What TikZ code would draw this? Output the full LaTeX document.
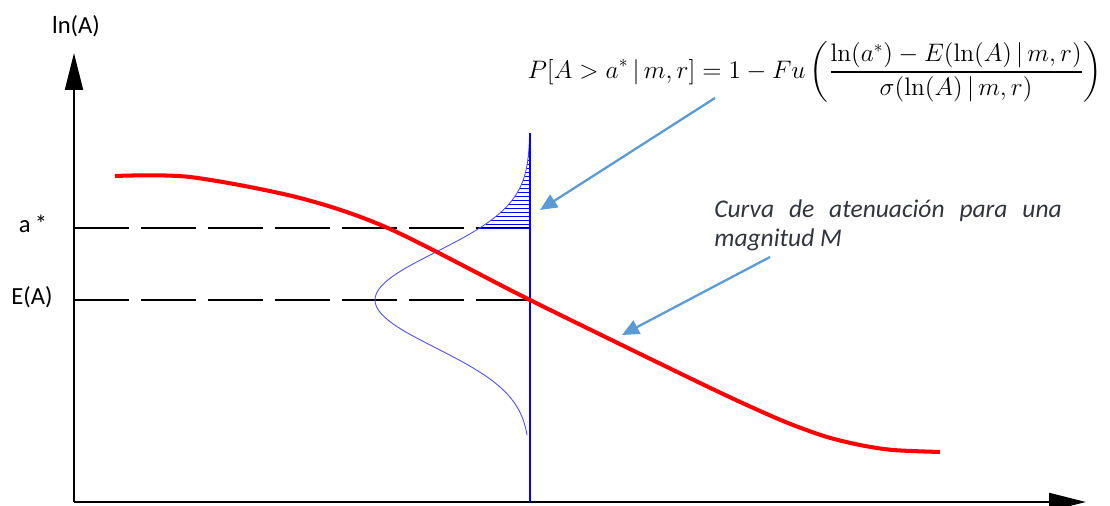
\documentclass[tikz,border=0pt]{standalone}
\usepackage{amsmath}
\usepackage{fontspec}
\setsansfont{Carlito}
\usepackage{xcolor}
\usepackage{tikz}
\usetikzlibrary{arrows.meta}
\definecolor{calloutblue}{RGB}{91,155,213}
\definecolor{notegray}{RGB}{50,52,62}

\begin{document}
\begin{tikzpicture}[
  x=0.02cm, y=-0.02cm,
  axis/.style={line width=1.1pt, -{Triangle[length=7.4mm,width=3.6mm]}},
  guide/.style={line width=0.6pt, dash pattern=on 31.3pt off 6.8pt},
  atten/.style={red, line width=2.3pt},
  pdf/.style={blue!70, line width=0.5pt},
  hatch/.style={blue, line width=0.5pt},
  callout/.style={calloutblue, line width=1.3pt, -{Triangle[length=3.4mm,width=3mm]}},
  lab/.style={font=\sffamily\fontsize{14}{16}\selectfont, inner sep=0pt},
  note/.style={font=\sffamily\itshape\fontsize{14.5}{16.5}\selectfont, text=notegray,
    text width=6.95cm, align=justify, inner sep=0pt}
]
\useasboundingbox (0,0) rectangle (1110,506);
% axes
\coordinate (O) at (74,502);
\coordinate (ytip) at (74,53);
\coordinate (xtip) at (1086,502);
\draw[axis] (O) -- (ytip);
\draw[axis] (O) -- (xtip);
\node[lab, anchor=base] (lnA) at (76,34) {ln(A)};
\node[lab, anchor=base] (astar) at (33,233) {a\,*};
\node[lab, anchor=base] (EA) at (32,305) {E(A)};
% dashed levels
\coordinate (aend) at (530,228);
\coordinate (Eend) at (530,300);
\draw[guide] (74,228) -- (aend);
\draw[guide] (74,300) -- (Eend);
% exceedance area
\foreach \h in {140,144,...,228}
  \draw[hatch] ({530-155*exp(-0.5*((\h-300)/48)^2)},\h) -- (530,\h);
\draw[pdf] plot[domain=135:435, samples=90, variable=\t]
  ({530-155*exp(-0.5*((\t-300)/48)^2)},\t);
\draw[blue, line width=0.9pt] (530,133) -- (530,502);
% attenuation curve
\draw[atten] plot[smooth] coordinates {(115,176) (190,177) (300,198)
  (390,229) (530,300) (700,383) (760,411) (793,425) (827,437) (860,445)
  (893,450) (940,452)};
% labels
\node[font=\Large] (prob) at (815,72)
  {$\displaystyle P[A > a^{*}\,|\,m,r] = 1 - Fu\left(\frac{\ln(a^{*}) - E(\ln(A)\,|\,m,r)}{\sigma(\ln(A)\,|\,m,r)}\right)$};
\node[note, anchor=north west] (curvelabel) at (714,199)
  {Curva de atenuación para una magnitud M};
\coordinate (probfoot) at (715,98);
\coordinate (areapt) at (540,210);
\coordinate (notefoot) at (770,257);
\coordinate (curvept) at (622,335);
\draw[callout] (probfoot) -- (areapt);
\draw[callout] (notefoot) -- (curvept);
\end{tikzpicture}
\end{document}
